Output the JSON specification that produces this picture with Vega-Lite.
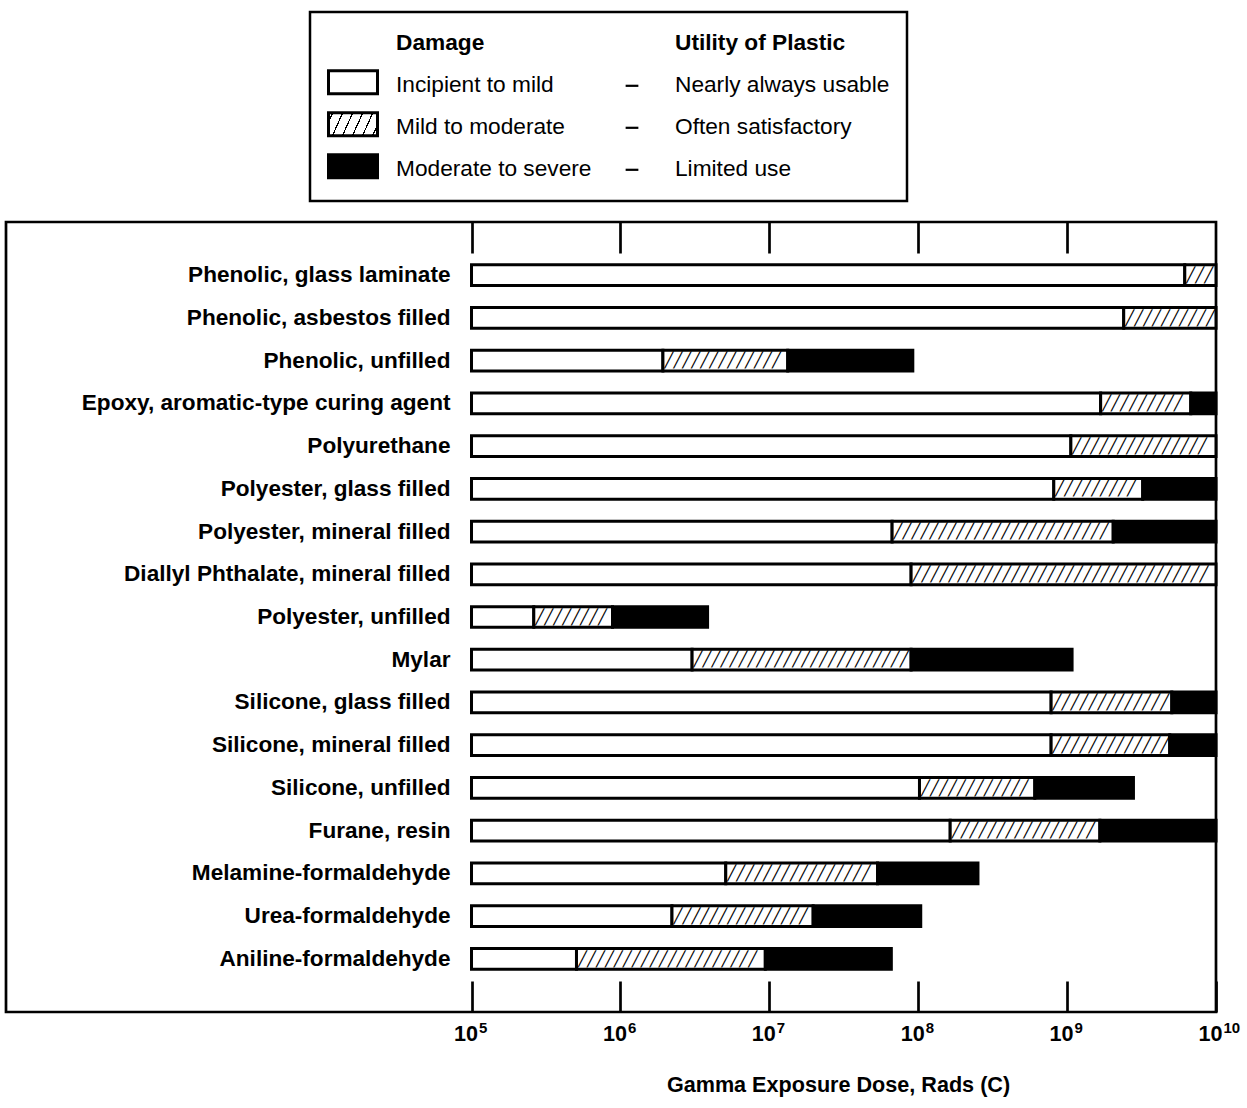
{
  "$schema": "https://vega.github.io/schema/vega-lite/v6.json",
  "width": 1210,
  "height": 790,
  "autosize": {"type": "none"},
  "padding": {"left": 6, "top": 222, "right": 31, "bottom": 96},
  "background": "white",
  "config": {
    "view": {"stroke": "black", "strokeWidth": 2.7},
    "font": "Liberation Sans",
    "legend": {"strokeWidth": 2.5}
  },
  "data": {
    "values": [
      {"material": "Phenolic, glass laminate", "damage": "Incipient to mild", "start": 1e5, "end": 6.17e9},
      {"material": "Phenolic, glass laminate", "damage": "Mild to moderate", "start": 6.17e9, "end": 1e10},
      {"material": "Phenolic, asbestos filled", "damage": "Incipient to mild", "start": 1e5, "end": 2.4e9},
      {"material": "Phenolic, asbestos filled", "damage": "Mild to moderate", "start": 2.4e9, "end": 1e10},
      {"material": "Phenolic, unfilled", "damage": "Incipient to mild", "start": 1e5, "end": 1.93e6},
      {"material": "Phenolic, unfilled", "damage": "Mild to moderate", "start": 1.93e6, "end": 1.33e7},
      {"material": "Phenolic, unfilled", "damage": "Moderate to severe", "start": 1.33e7, "end": 9.2e7},
      {"material": "Epoxy, aromatic-type curing agent", "damage": "Incipient to mild", "start": 1e5, "end": 1.68e9},
      {"material": "Epoxy, aromatic-type curing agent", "damage": "Mild to moderate", "start": 1.68e9, "end": 6.77e9},
      {"material": "Epoxy, aromatic-type curing agent", "damage": "Moderate to severe", "start": 6.77e9, "end": 1e10},
      {"material": "Polyurethane", "damage": "Incipient to mild", "start": 1e5, "end": 1.06e9},
      {"material": "Polyurethane", "damage": "Mild to moderate", "start": 1.06e9, "end": 1e10},
      {"material": "Polyester, glass filled", "damage": "Incipient to mild", "start": 1e5, "end": 8.14e8},
      {"material": "Polyester, glass filled", "damage": "Mild to moderate", "start": 8.14e8, "end": 3.22e9},
      {"material": "Polyester, glass filled", "damage": "Moderate to severe", "start": 3.22e9, "end": 1e10},
      {"material": "Polyester, mineral filled", "damage": "Incipient to mild", "start": 1e5, "end": 6.68e7},
      {"material": "Polyester, mineral filled", "damage": "Mild to moderate", "start": 6.68e7, "end": 2.04e9},
      {"material": "Polyester, mineral filled", "damage": "Moderate to severe", "start": 2.04e9, "end": 1e10},
      {"material": "Diallyl Phthalate, mineral filled", "damage": "Incipient to mild", "start": 1e5, "end": 8.96e7},
      {"material": "Diallyl Phthalate, mineral filled", "damage": "Mild to moderate", "start": 8.96e7, "end": 1e10},
      {"material": "Polyester, unfilled", "damage": "Incipient to mild", "start": 1e5, "end": 2.62e5},
      {"material": "Polyester, unfilled", "damage": "Mild to moderate", "start": 2.62e5, "end": 8.85e5},
      {"material": "Polyester, unfilled", "damage": "Moderate to severe", "start": 8.85e5, "end": 3.85e6},
      {"material": "Mylar", "damage": "Incipient to mild", "start": 1e5, "end": 3.03e6},
      {"material": "Mylar", "damage": "Mild to moderate", "start": 3.03e6, "end": 8.96e7},
      {"material": "Mylar", "damage": "Moderate to severe", "start": 8.96e7, "end": 1.08e9},
      {"material": "Silicone, glass filled", "damage": "Incipient to mild", "start": 1e5, "end": 7.81e8},
      {"material": "Silicone, glass filled", "damage": "Mild to moderate", "start": 7.81e8, "end": 5.05e9},
      {"material": "Silicone, glass filled", "damage": "Moderate to severe", "start": 5.05e9, "end": 1e10},
      {"material": "Silicone, mineral filled", "damage": "Incipient to mild", "start": 1e5, "end": 7.81e8},
      {"material": "Silicone, mineral filled", "damage": "Mild to moderate", "start": 7.81e8, "end": 4.89e9},
      {"material": "Silicone, mineral filled", "damage": "Moderate to severe", "start": 4.89e9, "end": 1e10},
      {"material": "Silicone, unfilled", "damage": "Incipient to mild", "start": 1e5, "end": 1.02e8},
      {"material": "Silicone, unfilled", "damage": "Mild to moderate", "start": 1.02e8, "end": 6.07e8},
      {"material": "Silicone, unfilled", "damage": "Moderate to severe", "start": 6.07e8, "end": 2.79e9},
      {"material": "Furane, resin", "damage": "Incipient to mild", "start": 1e5, "end": 1.64e8},
      {"material": "Furane, resin", "damage": "Mild to moderate", "start": 1.64e8, "end": 1.66e9},
      {"material": "Furane, resin", "damage": "Moderate to severe", "start": 1.66e9, "end": 1e10},
      {"material": "Melamine-formaldehyde", "damage": "Incipient to mild", "start": 1e5, "end": 5.1e6},
      {"material": "Melamine-formaldehyde", "damage": "Mild to moderate", "start": 5.1e6, "end": 5.33e7},
      {"material": "Melamine-formaldehyde", "damage": "Moderate to severe", "start": 5.33e7, "end": 2.52e8},
      {"material": "Urea-formaldehyde", "damage": "Incipient to mild", "start": 1e5, "end": 2.22e6},
      {"material": "Urea-formaldehyde", "damage": "Mild to moderate", "start": 2.22e6, "end": 1.97e7},
      {"material": "Urea-formaldehyde", "damage": "Moderate to severe", "start": 1.97e7, "end": 1.04e8},
      {"material": "Aniline-formaldehyde", "damage": "Incipient to mild", "start": 1e5, "end": 5.07e5},
      {"material": "Aniline-formaldehyde", "damage": "Mild to moderate", "start": 5.07e5, "end": 9.4e6},
      {"material": "Aniline-formaldehyde", "damage": "Moderate to severe", "start": 9.4e6, "end": 6.6e7}
    ]
  },
  "resolve": {"axis": {"x": "independent"}},
  "encoding": {
    "y": {
      "field": "material", "type": "nominal", "sort": null,
      "scale": {"paddingInner": 0.515, "paddingOuter": 1.19},
      "axis": {
        "title": null, "orient": "left", "offset": -444, "domain": false, "ticks": false,
        "labelPadding": 0, "labelFont": "Liberation Sans", "labelFontWeight": "bold",
        "labelFontSize": 22.6, "labelColor": "black", "labelLimit": 500, "grid": false
      }
    }
  },
  "layer": [
    {
      "transform": [{"filter": "datum.damage !== 'Moderate to severe'"}],
      "mark": {"type": "bar", "stroke": "black", "strokeWidth": 3},
      "encoding": {
        "x": {
          "field": "start", "type": "quantitative",
          "scale": {"type": "log", "domain": [74.76, 1e10], "nice": false},
          "axis": {
            "orient": "bottom", "values": [1e5, 1e6, 1e7, 1e8, 1e9, 1e10],
            "labelExpr": "'10'", "labelOffset": -6,
            "labelFont": "Liberation Sans", "labelFontWeight": "bold", "labelFontSize": 21.6,
            "labelColor": "black", "labelFlush": false, "labelOverlap": false,
            "labelBaseline": "alphabetic", "labelPadding": 59,
            "ticks": true, "tickSize": -31, "tickWidth": 2.7, "tickColor": "black",
            "domain": false, "grid": false,
            "title": "Gamma Exposure Dose, Rads (C)", "titleFont": "Liberation Sans",
            "titleFontWeight": "bold", "titleFontSize": 21.6, "titleColor": "black",
            "titleX": 832, "titleY": 79, "titleAlign": "center", "titleBaseline": "alphabetic"
          }
        },
        "x2": {"field": "end"},
        "fill": {
          "field": "damage", "type": "nominal",
          "scale": {"domain": ["Incipient to mild", "Mild to moderate", "Moderate to severe"], "range": ["white", "white", "black"]},
          "legend": null
        },
        "opacity": {
          "field": "damage", "type": "nominal",
          "scale": {"domain": ["Damage", "Utility of Plastic", "Incipient to mild", "Nearly always usable", "Mild to moderate", "Often satisfactory", "Moderate to severe", "Limited use"], "range": [1, 1]},
          "legend": {
            "orient": "none", "legendX": 304, "legendY": -210, "title": null,
            "direction": "horizontal",
            "values": ["Damage", "Utility of Plastic", "Incipient to mild", "Nearly always usable", "Mild to moderate", "Often satisfactory", "Moderate to severe", "Limited use"],
            "columns": 2, "columnPadding": 9, "rowPadding": 6,
            "symbolSize": 2401, "symbolStrokeWidth": 3, "symbolOpacity": 1,
            "symbolType": {"expr": "(datum.value === 'Nearly always usable' || datum.value === 'Often satisfactory' || datum.value === 'Limited use') ? 'M-0.26,-0.502H0.26V-0.412H-0.26Z' : 'M-1,-1.072H1V-0.132H-1Z'"},
            "symbolFillColor": {"expr": "datum.value === 'Incipient to mild' ? 'white' : datum.value === 'Mild to moderate' ? {gradient: 'linear', x1: 0, y1: 0, x2: 1.159, y2: 0.245, stops: [{offset: 0, color: 'white'}, {offset: 0.06, color: 'white'}, {offset: 0.06, color: 'black'}, {offset: 0.082, color: 'black'}, {offset: 0.082, color: 'white'}, {offset: 0.229, color: 'white'}, {offset: 0.229, color: 'black'}, {offset: 0.251, color: 'black'}, {offset: 0.251, color: 'white'}, {offset: 0.398, color: 'white'}, {offset: 0.398, color: 'black'}, {offset: 0.42, color: 'black'}, {offset: 0.42, color: 'white'}, {offset: 0.567, color: 'white'}, {offset: 0.567, color: 'black'}, {offset: 0.589, color: 'black'}, {offset: 0.589, color: 'white'}, {offset: 0.736, color: 'white'}, {offset: 0.736, color: 'black'}, {offset: 0.758, color: 'black'}, {offset: 0.758, color: 'white'}, {offset: 0.905, color: 'white'}, {offset: 0.905, color: 'black'}, {offset: 0.927, color: 'black'}, {offset: 0.927, color: 'white'}, {offset: 1, color: 'white'}]} : (datum.value === 'Moderate to severe' || datum.value === 'Nearly always usable' || datum.value === 'Often satisfactory' || datum.value === 'Limited use') ? 'black' : 'transparent'"},
            "symbolStrokeColor": {"expr": "(datum.value === 'Incipient to mild' || datum.value === 'Mild to moderate' || datum.value === 'Moderate to severe') ? 'black' : 'transparent'"},
            "labelOffset": 17, "labelFont": "Liberation Sans", "labelFontSize": 22.7,
            "labelFontWeight": {"expr": "(datum.value === 'Damage' || datum.value === 'Utility of Plastic') ? 'bold' : 'normal'"},
            "labelBaseline": "bottom",
            "labelColor": "black", "labelLimit": 400,
            "padding": 17, "strokeColor": "black", "fillColor": "white"
          }
        }
      }
    },
    {
      "transform": [{"filter": "datum.damage === 'Mild to moderate'"}],
      "mark": {
        "type": "text", "align": "left", "baseline": "middle",
        "font": "DejaVu Sans Mono", "fontSize": 14.9, "color": "black",
        "dx": 1.5, "dy": 0.7, "ellipsis": "╱",
        "limit": {"expr": "scale('x', datum.end) - scale('x', datum.start) - 2"}
      },
      "encoding": {
        "x": {
          "field": "start", "type": "quantitative",
          "scale": {"type": "log", "domain": [74.76, 1e10], "nice": false},
          "axis": {
            "orient": "top", "values": [1e5, 1e6, 1e7, 1e8, 1e9],
            "labels": false, "ticks": true, "tickSize": -31, "tickWidth": 2.7,
            "tickColor": "black", "domain": false, "grid": false, "title": null
          }
        },
        "text": {"value": "╱╱╱╱╱╱╱╱╱╱╱╱╱╱╱╱╱╱╱╱╱╱╱╱╱╱╱╱╱╱╱╱╱╱╱╱╱╱╱╱"}
      }
    },
    {
      "transform": [{"filter": "datum.damage === 'Moderate to severe'"}],
      "mark": {"type": "bar", "stroke": "black", "strokeWidth": 3, "color": "black"},
      "encoding": {
        "x": {
          "field": "start", "type": "quantitative",
          "scale": {"type": "log", "domain": [74.76, 1e10], "nice": false},
          "axis": {
            "orient": "bottom", "values": [1e5, 1e6, 1e7, 1e8, 1e9, 1e10],
            "labelExpr": "datum.value < 5e5 ? '5' : datum.value < 5e6 ? '6' : datum.value < 5e7 ? '7' : datum.value < 5e8 ? '8' : datum.value < 5e9 ? '9' : '10'",
            "labelAlign": "left", "labelOffset": 7,
            "labelFont": "Liberation Sans", "labelFontWeight": "bold", "labelFontSize": 15,
            "labelColor": "black", "labelFlush": false, "labelOverlap": false,
            "labelBaseline": "alphabetic", "labelPadding": 20,
            "ticks": false, "domain": false, "grid": false, "title": null
          }
        },
        "x2": {"field": "end"}
      }
    }
  ]
}
